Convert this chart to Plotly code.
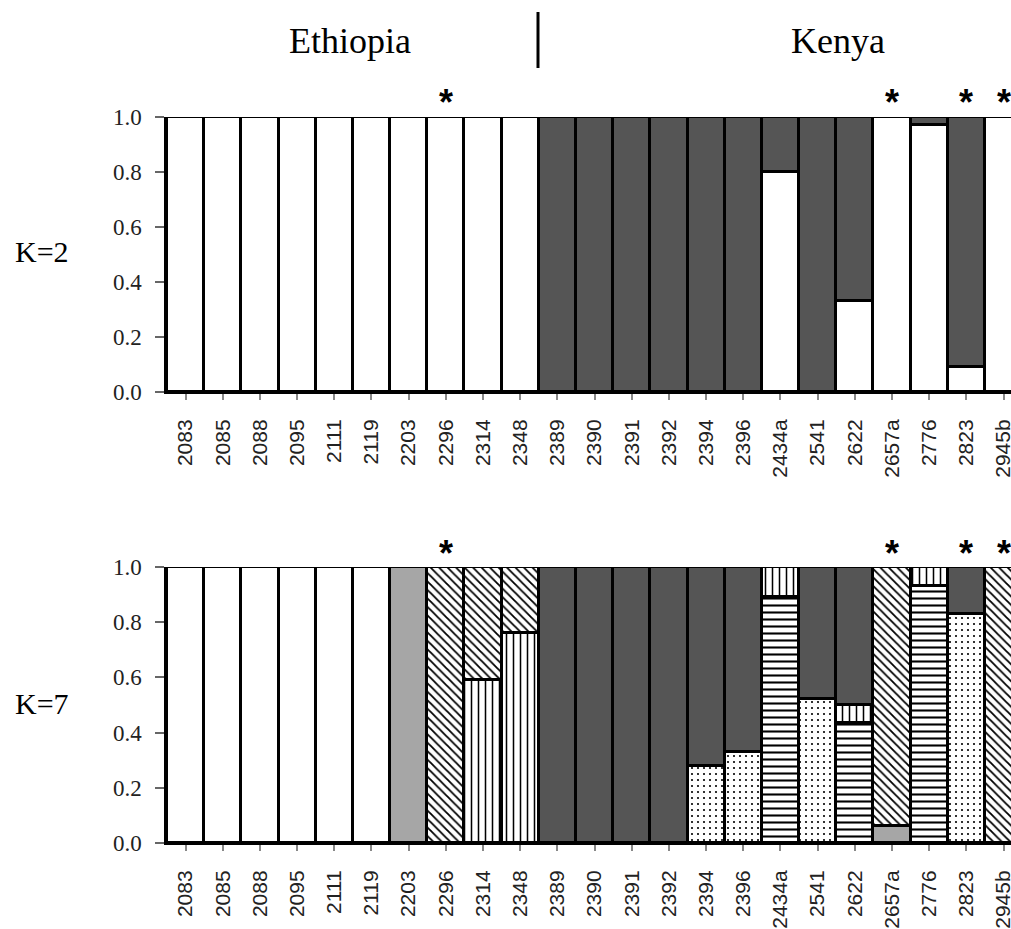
import plotly.graph_objects as go

categories = ["2083", "2085", "2088", "2095", "2111", "2119", "2203", "2296", "2314", "2348",
              "2389", "2390", "2391", "2392", "2394", "2396", "2434a", "2541", "2622", "2657a",
              "2776", "2823", "2945b"]

# K=2 membership (bottom: white cluster, top: dark cluster)
k2_white = [1, 1, 1, 1, 1, 1, 1, 1, 1, 1, 0, 0, 0, 0, 0, 0, 0.80, 0, 0.33, 1.0, 0.97, 0.09, 1.0]
k2_dark = [0, 0, 0, 0, 0, 0, 0, 0, 0, 0, 1, 1, 1, 1, 1, 1, 0.20, 1, 0.67, 0, 0.03, 0.91, 0]

# K=7 membership, stacked bottom to top in this order
k7_white = [1, 1, 1, 1, 1, 1, 0, 0, 0, 0, 0, 0, 0, 0, 0, 0, 0, 0, 0, 0, 0, 0, 0]
k7_gray = [0, 0, 0, 0, 0, 0, 1.0, 0, 0, 0, 0, 0, 0, 0, 0, 0, 0, 0, 0, 0.06, 0, 0, 0]
k7_hlines = [0, 0, 0, 0, 0, 0, 0, 0, 0, 0, 0, 0, 0, 0, 0, 0, 0.89, 0, 0.435, 0, 0.93, 0, 0]
k7_dots = [0, 0, 0, 0, 0, 0, 0, 0, 0, 0, 0, 0, 0, 0, 0.28, 0.33, 0, 0.52, 0, 0, 0, 0.83, 0]
k7_vlines = [0, 0, 0, 0, 0, 0, 0, 0, 0.59, 0.76, 0, 0, 0, 0, 0, 0, 0.11, 0, 0.065, 0, 0.07, 0, 0]
k7_diag = [0, 0, 0, 0, 0, 0, 0, 1.0, 0.41, 0.24, 0, 0, 0, 0, 0, 0, 0, 0, 0, 0.94, 0, 0, 1.0]
k7_dark = [0, 0, 0, 0, 0, 0, 0, 0, 0, 0, 1, 1, 1, 1, 0.72, 0.67, 0, 0.48, 0.50, 0, 0, 0.17, 0]

starred = ["2296", "2657a", "2823", "2945b"]
y_ticks = [0.0, 0.2, 0.4, 0.6, 0.8, 1.0]

DARK = "#555555"
LGRAY = "#a6a6a6"
LW = 3
W = 1011.0
H = 929.0


def px_x(sx):
    return sx / W


def px_y(sy):
    return 1 - sy / H


def nz(v):
    return [x if x else None for x in v]


fig = go.Figure()


def add_bar(vals, xa, ya, color, shape=None, size=6, solidity=0.3):
    marker = dict(color=color, line=dict(color="black", width=LW))
    if shape:
        marker["pattern"] = dict(shape=shape, fgcolor="black", bgcolor="white",
                                 size=size, solidity=solidity, fillmode="replace")
    fig.add_trace(go.Bar(x=categories, y=nz(vals), xaxis=xa, yaxis=ya, marker=marker,
                         width=1, cliponaxis=False, showlegend=False, hoverinfo="skip"))


# K=2 panel
add_bar(k2_white, "x", "y", "white")
add_bar(k2_dark, "x", "y", DARK)

# K=7 panel
add_bar(k7_white, "x2", "y2", "white")
add_bar(k7_gray, "x2", "y2", LGRAY)
add_bar(k7_hlines, "x2", "y2", "white", "-", 7, 0.3)
add_bar(k7_dots, "x2", "y2", "white", ".", 6, 0.1)
add_bar(k7_vlines, "x2", "y2", "white", "|", 7, 0.22)
add_bar(k7_diag, "x2", "y2", "white", "\\", 6, 0.3)
add_bar(k7_dark, "x2", "y2", DARK)

xcommon = dict(type="category", range=[-0.5, 22.2], domain=[px_x(167), 1.0],
               tickmode="linear", tick0=0, dtick=1, tickangle=-90,
               ticks="outside", ticklen=6, tickwidth=1.5, tickcolor="#888888",
               showline=True, linecolor="black", linewidth=2, showgrid=False,
               zeroline=False, tickfont=dict(family="Liberation Sans", size=21, color="#222222"),
               ticklabelstandoff=11, automargin=False)
ycommon = dict(range=[0, 1], tickvals=y_ticks, ticktext=[f"{v:.1f}" for v in y_ticks],
               ticks="outside", ticklen=9, tickwidth=2, tickcolor="#666666",
               showline=True, linecolor="black", linewidth=2.5, showgrid=False,
               zeroline=False, tickfont=dict(family="Liberation Serif", size=23, color="#222222"),
               ticklabelstandoff=9, automargin=False)

fig.update_layout(
    width=int(W), height=int(H),
    margin=dict(l=0, r=0, t=0, b=0, pad=0, autoexpand=False),
    paper_bgcolor="white", plot_bgcolor="white",
    barmode="stack", bargap=0,
    xaxis=dict(**xcommon, anchor="y"),
    yaxis=dict(**ycommon, domain=[px_y(392), px_y(117)], anchor="x"),
    xaxis2=dict(**xcommon, anchor="y2"),
    yaxis2=dict(**ycommon, domain=[px_y(843), px_y(567)], anchor="x2"),
)

annotations = []
for label, xc in [("Ethiopia", 350), ("Kenya", 838)]:
    annotations.append(dict(text=label, x=px_x(xc), y=px_y(41), xref="paper", yref="paper",
                            xanchor="center", yanchor="middle", showarrow=False,
                            font=dict(family="Liberation Serif", size=36, color="black")))
for label, yc in [("K=2", 252), ("K=7", 703)]:
    annotations.append(dict(text=label, x=px_x(42), y=px_y(yc), xref="paper", yref="paper",
                            xanchor="center", yanchor="middle", showarrow=False,
                            font=dict(family="Liberation Serif", size=30, color="black")))
for xa, ystar in [("x", 103), ("x2", 553)]:
    for c in starred:
        annotations.append(dict(text="*", x=categories.index(c), y=px_y(ystar), xref=xa,
                                yref="paper", xanchor="center", yanchor="middle", showarrow=False,
                                font=dict(family="Liberation Sans", size=36, color="black",
                                          weight="bold")))
fig.update_layout(annotations=annotations)

fig.add_shape(type="line", xref="paper", yref="paper", x0=px_x(538), x1=px_x(538),
              y0=px_y(12), y1=px_y(68), line=dict(color="black", width=3))

fig.write_html("out.html", config={"displayModeBar": False},
               post_script="document.body.style.margin='0px';document.body.style.overflow='hidden';")
